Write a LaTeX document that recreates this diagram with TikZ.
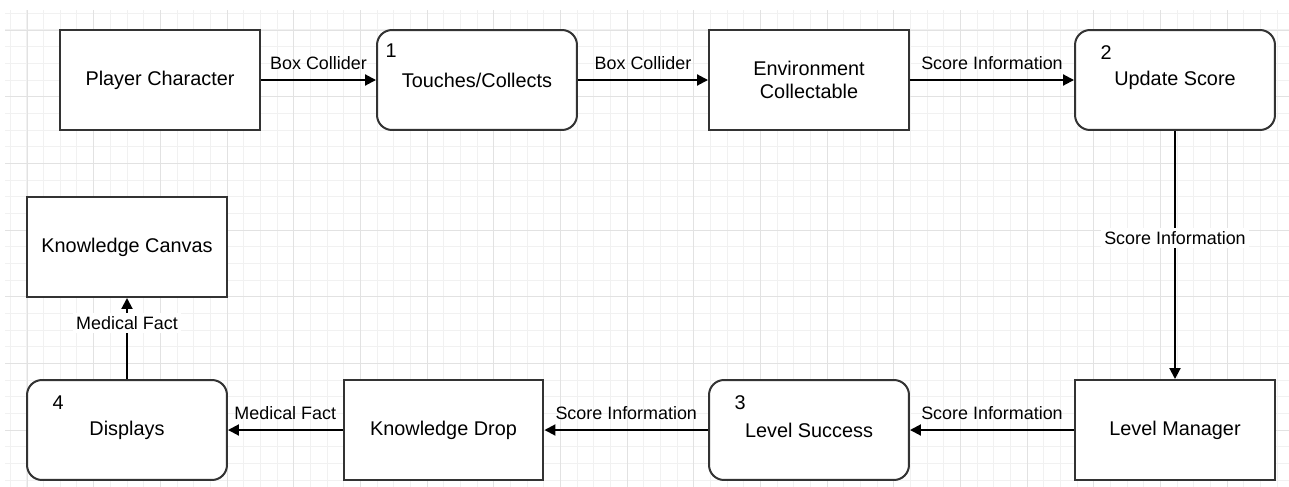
\documentclass[tikz,border=0pt]{standalone}
\usepackage{fontspec}
\setmainfont{Liberation Sans}
\usetikzlibrary{arrows.meta,calc}
\definecolor{gridminor}{RGB}{241,241,241}
\definecolor{gridmajor}{RGB}{226,226,226}
\definecolor{boxline}{RGB}{51,51,51}
\tikzset{
    procbox/.style={draw=boxline, line width=0.04cm, fill=white, minimum width=4cm, minimum height=2cm, align=center, font=\fontsize{11.3}{13.5}\selectfont},
    entity/.style={procbox},
    process/.style={procbox, rounded corners=0.3cm},
    stepnum/.style={inner sep=0pt, font=\fontsize{11.3}{13.5}\selectfont},
    flow/.style={line width=0.04cm, -{Triangle[length=0.22cm,width=0.22cm]}},
    flowlabel/.style={font=\fontsize{10.2}{12}\selectfont, inner sep=2pt},
}

\begin{document}
\begin{tikzpicture}[x=0.02cm,y=-0.02cm]
    \useasboundingbox (0,0) rectangle (1289,487);

    % Background grid
    \foreach \i in {0,...,76}
        \draw[gridminor, line width=0.02cm] ({10.33+\i*16.667},10) -- ({10.33+\i*16.667},487);
    \foreach \j in {0,...,28}
        \draw[gridminor, line width=0.02cm] (5,{13.33+\j*16.667}) -- (1289,{13.33+\j*16.667});
    \foreach \i in {0,...,18}
        \draw[gridmajor, line width=0.02cm] ({27+\i*66.667},10) -- ({27+\i*66.667},487);
    \foreach \j in {0,...,6}
        \draw[gridmajor, line width=0.02cm] (5,{30+\j*66.667}) -- (1289,{30+\j*66.667});

    % Top row
    \node[entity] (player) at (160,80) {Player Character};
    \node[process] (touch) at (477,80) {Touches/Collects};
    \node[entity] (collect) at (809,80) {Environment\\Collectable};
    \node[process] (update) at (1175,80) {Update Score};

    % Bottom row
    \node[entity] (manager) at (1175,430) {Level Manager};
    \node[process] (success) at (809,430) {Level Success};
    \node[entity] (drop) at (443.5,430) {Knowledge Drop};
    \node[process] (displays) at (127,430) {Displays};

    % Output
    \node[entity] (canvas) at (127,247) {Knowledge Canvas};

    % Step numbers
    \node[stepnum] (num1) at ($(touch.north west)+(15,22)$) {1};
    \node[stepnum] (num2) at ($(update.north west)+(32,24)$) {2};
    \node[stepnum] (num3) at ($(success.north west)+(32,24)$) {3};
    \node[stepnum] (num4) at ($(displays.north west)+(32,24)$) {4};

    % Data flows
    \draw[flow] (player) -- node[flowlabel, above=3.5pt] {Box Collider} (touch);
    \draw[flow] (touch) -- node[flowlabel, above=3.5pt] {Box Collider} (collect);
    \draw[flow] (collect) -- node[flowlabel, above=3.5pt] {Score Information} (update);
    \draw[flow] (update) -- node[flowlabel, fill=white, pos=0.43] {Score Information} (manager);
    \draw[flow] (manager) -- node[flowlabel, above=3.5pt] {Score Information} (success);
    \draw[flow] (success) -- node[flowlabel, above=3.5pt] {Score Information} (drop);
    \draw[flow] (drop) -- node[flowlabel, above=3.5pt] {Medical Fact} (displays);
    \draw[flow] (displays) -- node[flowlabel, fill=white, pos=0.69] {Medical Fact} (canvas);
\end{tikzpicture}
\end{document}
